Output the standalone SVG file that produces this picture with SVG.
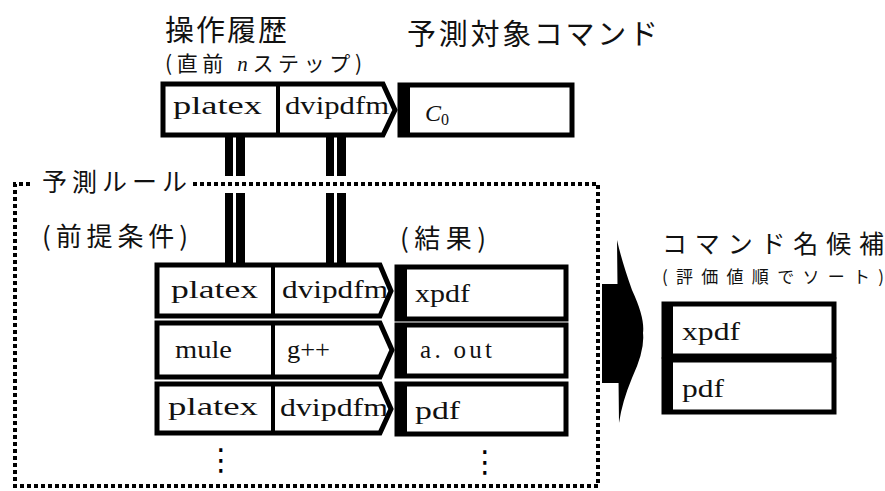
<svg xmlns="http://www.w3.org/2000/svg" width="885" height="491" viewBox="0 0 885 491">
<style>
.jp{font-family:"Noto Sans CJK JP","Noto Sans",sans-serif;fill:#111}
.mono{font-family:"Liberation Serif","DejaVu Serif",serif;font-size:25px;fill:#111}
.box{fill:#fff;stroke:#000;stroke-width:5;stroke-linejoin:miter}
.div{stroke:#000;stroke-width:4}
.bar{fill:#000}
.dot{fill:none;stroke:#000;stroke-width:4;stroke-dasharray:4 3}
.vd{font-family:"DejaVu Sans",sans-serif;font-size:30px;fill:#000}
</style>
<rect width="885" height="491" fill="#fff"/>

<!-- titles -->
<g id="title-history">
<text class="jp" x="165" y="41" font-size="29" textLength="122">操作履歴</text>
<text class="jp" x="165" y="71" font-size="21" textLength="197">(直前 <tspan font-family="Liberation Serif,serif" font-style="italic">n</tspan>ステップ)</text>
</g>
<g id="title-target">
<text class="jp" x="407" y="45" font-size="29" textLength="251">予測対象コマンド</text>
</g>

<!-- operation history -->
<g id="history">
<path class="box" d="M163,84 H383 L395,110 L383,135 H163 Z"/>
<line class="div" x1="278" y1="84" x2="278" y2="135"/>
<text class="mono" x="173" y="114" textLength="89" lengthAdjust="spacingAndGlyphs">platex</text>
<text class="mono" x="285" y="114" textLength="104" lengthAdjust="spacingAndGlyphs">dvipdfm</text>
</g>

<!-- target command -->
<g id="target">
<rect class="box" x="400" y="85" width="172" height="50" stroke-width="4"/>
<rect class="bar" x="398" y="83" width="12" height="54"/>
<text x="425" y="121" font-family="Liberation Serif,serif" font-style="italic" font-size="24" fill="#111">C<tspan font-style="normal" font-size="16" dy="4">0</tspan></text>
</g>

<!-- rule frame -->
<g id="rule-frame">
<path class="dot" d="M30,184 H15 V486 H598 V184 H192"/>
<text class="jp" x="42" y="191" font-size="25" textLength="145">予測ルール</text>
<text class="jp" x="42" y="246" font-size="26" textLength="146">(前提条件)</text>
<text class="jp" x="400" y="248" font-size="26" textLength="86">(結果)</text>
</g>

<!-- rule rows: conditions -->
<g id="rule1-cond">
<path class="box" d="M157,265 H380 L391,291 L380,316 H157 Z"/>
<line class="div" x1="273" y1="265" x2="273" y2="316"/>
<text class="mono" x="171" y="298" textLength="87" lengthAdjust="spacingAndGlyphs">platex</text>
<text class="mono" x="282" y="298" textLength="106" lengthAdjust="spacingAndGlyphs">dvipdfm</text>
</g>
<g id="rule2-cond">
<path class="box" d="M157,323 H380 L392,350 L380,377 H157 Z"/>
<line class="div" x1="273" y1="323" x2="273" y2="377"/>
<text class="mono" x="175" y="358" textLength="57" lengthAdjust="spacingAndGlyphs">mule</text>
<text class="mono" x="287" y="358" font-size="22" textLength="43" lengthAdjust="spacingAndGlyphs">g++</text>
</g>
<g id="rule3-cond">
<path class="box" d="M157,384 H380 L391,409 L380,433 H157 Z"/>
<line class="div" x1="273" y1="384" x2="273" y2="433"/>
<text class="mono" x="168" y="415" textLength="90" lengthAdjust="spacingAndGlyphs">platex</text>
<text class="mono" x="280" y="416" textLength="108" lengthAdjust="spacingAndGlyphs">dvipdfm</text>
</g>
<text class="vd" x="206" y="470">⋮</text>

<!-- rule rows: results -->
<g id="rule1-result">
<rect class="box" x="397" y="267" width="169" height="52" stroke-width="4"/>
<rect class="bar" x="395" y="265" width="12" height="56"/>
<text class="mono" x="415" y="302" textLength="55" lengthAdjust="spacingAndGlyphs">xpdf</text>
</g>
<g id="rule2-result">
<rect class="box" x="397" y="325" width="169" height="51" stroke-width="4"/>
<rect class="bar" x="395" y="323" width="12" height="55"/>
<text class="mono" x="420" y="358" textLength="72">a. out</text>
</g>
<g id="rule3-result">
<rect class="box" x="397" y="384" width="169" height="50" stroke-width="4"/>
<rect class="bar" x="395" y="382" width="12" height="54"/>
<text class="mono" x="415" y="419" textLength="45" lengthAdjust="spacingAndGlyphs">pdf</text>
</g>
<text class="vd" x="470" y="472">⋮</text>

<!-- candidates -->
<g id="candidates">
<text class="jp" x="662" y="253" font-size="25" textLength="222">コマンド名候補</text>
<text class="jp" x="662" y="283" font-size="17" textLength="222">(評価値順でソート)</text>
</g>
<g id="cand1">
<rect class="box" x="664" y="304" width="170" height="52" stroke-width="4"/>
<rect class="bar" x="662" y="302" width="11" height="56"/>
<text class="mono" x="682" y="340" textLength="58" lengthAdjust="spacingAndGlyphs">xpdf</text>
</g>
<g id="cand2">
<rect class="box" x="664" y="360" width="170" height="52" stroke-width="4"/>
<rect class="bar" x="662" y="358" width="11" height="56"/>
<text class="mono" x="682" y="397" textLength="42" lengthAdjust="spacingAndGlyphs">pdf</text>
</g>

<!-- connectors -->
<g id="connectors">
<rect class="bar" x="225" y="137" width="8" height="39"/>
<rect class="bar" x="236" y="137" width="9" height="39"/>
<rect class="bar" x="225" y="193" width="8" height="70"/>
<rect class="bar" x="236" y="193" width="9" height="70"/>
<rect class="bar" x="326" y="137" width="8" height="39"/>
<rect class="bar" x="337" y="137" width="9" height="39"/>
<rect class="bar" x="326" y="193" width="8" height="70"/>
<rect class="bar" x="337" y="193" width="9" height="70"/>
<rect class="bar" x="602" y="284" width="19" height="99"/>
<path class="bar" d="M617,240 Q622,262 632,290 Q645,318 643,333 Q645,350 632,378 Q622,402 619,423 Z"/>
</g>
</svg>
